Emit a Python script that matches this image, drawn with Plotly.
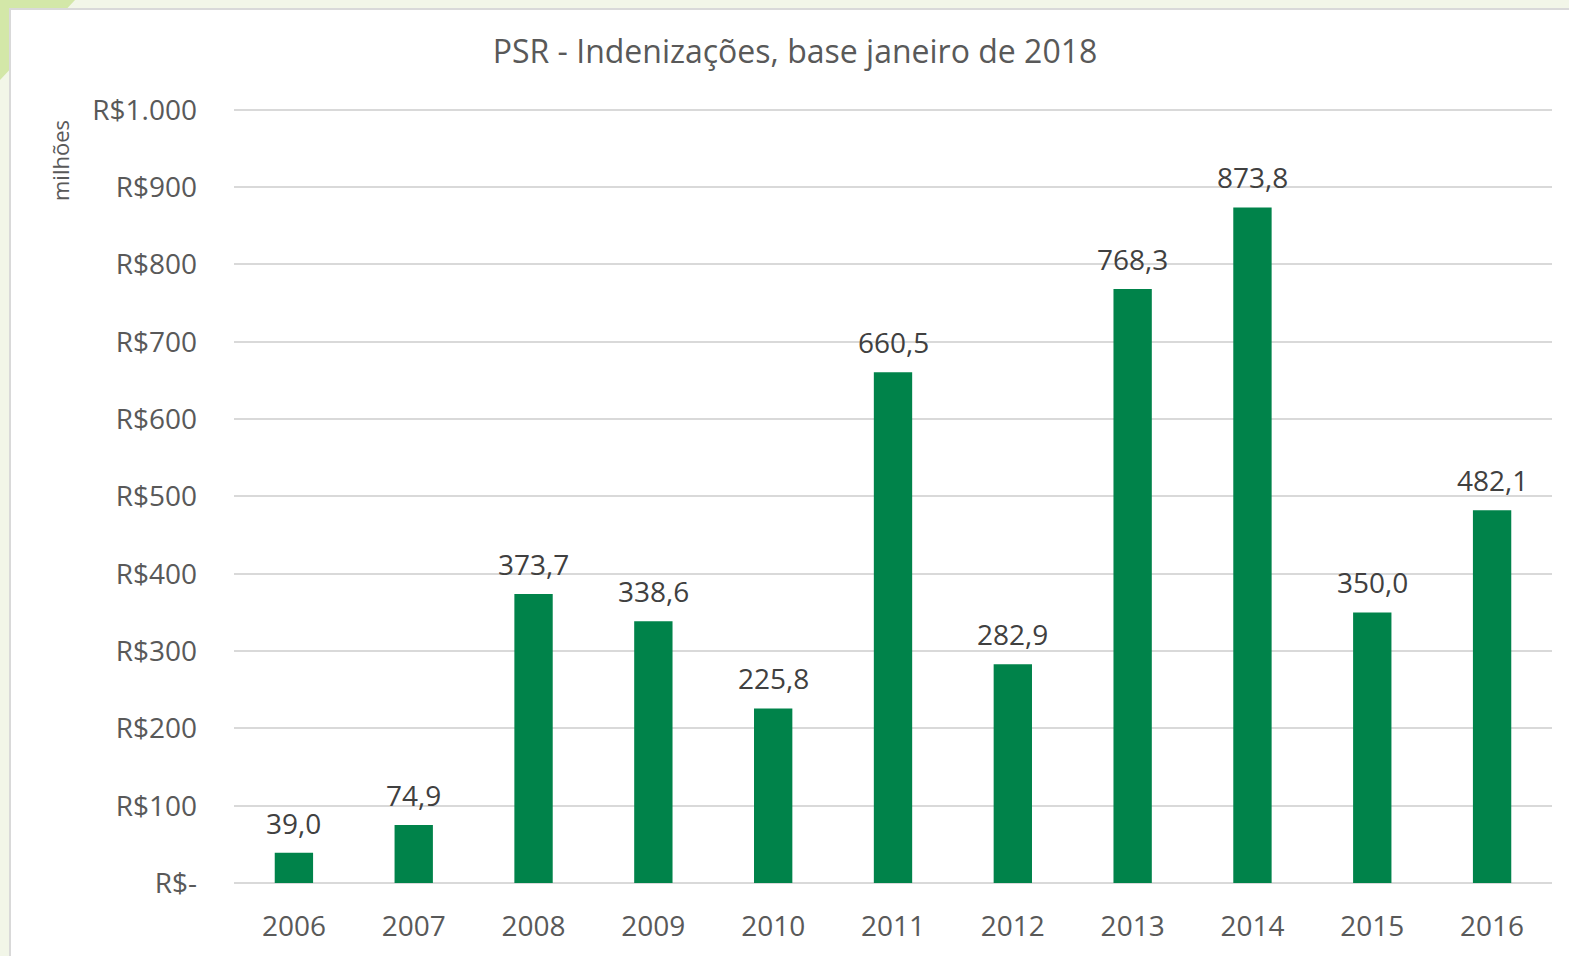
import plotly.graph_objects as go

years = ["2006", "2007", "2008", "2009", "2010", "2011", "2012", "2013", "2014", "2015", "2016"]
values = [39.0, 74.9, 373.7, 338.6, 225.8, 660.5, 282.9, 768.3, 873.8, 350.0, 482.1]
labels = ["39,0", "74,9", "373,7", "338,6", "225,8", "660,5", "282,9", "768,3", "873,8", "350,0", "482,1"]
tick_vals = [0, 100, 200, 300, 400, 500, 600, 700, 800, 900, 1000]
tick_text = ["R$-", "R$100", "R$200", "R$300", "R$400", "R$500", "R$600", "R$700", "R$800", "R$900", "R$1.000"]

FONT = "Open Sans"
W, H = 1569, 956
L, R, T, B = 234, 17, 106, 73
PW, PH = W - L - R, H - T - B


def px(x):
    return (x - L) / PW


def py(y):
    return (H - B - y) / PH


fig = go.Figure(
    go.Bar(
        x=years,
        y=values,
        marker=dict(color="#00834A", line=dict(width=0)),
        hoverinfo="skip",
    )
)

# data labels placed at each bar's category index via the category axis
annotations = [
    dict(x=i, y=v, text=lab, xref="x", yref="y", showarrow=False,
         xanchor="center", yanchor="middle", yshift=30,
         font=dict(family=FONT, size=28, color="#404040"))
    for i, (v, lab) in enumerate(zip(values, labels))
]
annotations.append(
    dict(text="milhões", xref="paper", yref="paper",
         x=px(60), y=py(161),
         xanchor="center", yanchor="middle", textangle=-90, showarrow=False,
         font=dict(family=FONT, size=22, color="#595959"))
)

fig.update_layout(
    width=W,
    height=H,
    margin=dict(l=L, r=R, t=T, b=B),
    paper_bgcolor="#F2F6E8",
    plot_bgcolor="white",
    bargap=0.68,
    showlegend=False,
    title=dict(
        text="PSR - Indenizações, base janeiro de 2018",
        x=795 / W, xanchor="center", y=1 - 52 / H, yanchor="middle",
        font=dict(family=FONT, size=32, color="#595959"),
    ),
    font=dict(family=FONT, color="#595959"),
    shapes=[
        dict(type="path", xref="paper", yref="paper",
             path=f"M {px(0)} {py(0)} L {px(75)} {py(0)} L {px(0)} {py(80)} Z",
             fillcolor="#D3E7A8", line=dict(width=0), layer="below"),
        dict(type="rect", xref="paper", yref="paper",
             x0=px(10), x1=px(W + 5),
             y0=py(H + 5), y1=py(9),
             fillcolor="white", line=dict(color="#D9D9D9", width=2), layer="below"),
    ],
    annotations=annotations,
)

fig.update_xaxes(
    type="category",
    range=[-0.5, len(years) - 0.5],
    tickfont=dict(family=FONT, size=28, color="#595959"),
    ticks="", showline=False, showgrid=False,
    ticklabelstandoff=24,
)
fig.update_yaxes(
    range=[0, 1005],
    tickvals=tick_vals,
    ticktext=tick_text,
    tickfont=dict(family=FONT, size=28, color="#595959"),
    showgrid=True, gridcolor="#D9D9D9", gridwidth=2,
    zeroline=True, zerolinecolor="#D9D9D9", zerolinewidth=2,
    showline=False, ticks="",
    ticklabelstandoff=36,
)

fig.write_html(
    "out.html",
    config={"displayModeBar": False, "staticPlot": True},
    post_script="document.body.style.margin='0';document.body.style.overflow='hidden';",
)
